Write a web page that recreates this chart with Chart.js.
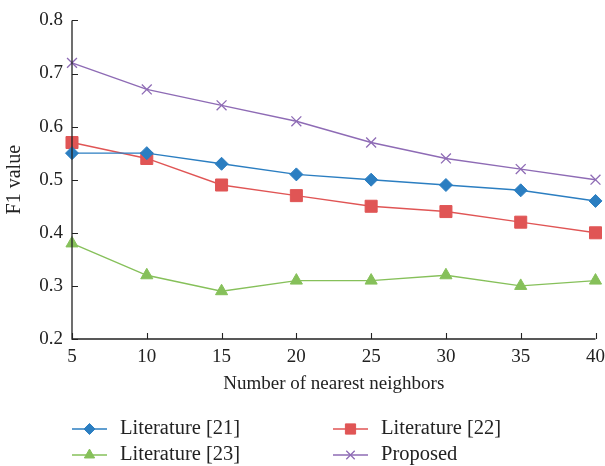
<!DOCTYPE html>
<html>
<head>
<meta charset="utf-8">
<script src="https://cdn.jsdelivr.net/npm/chart.js@4"></script>
<style>
html,body{margin:0;padding:0;background:#fff;}
#wrap{width:605px;height:466px;position:relative;}
</style>
</head>
<body>
<div id="wrap"><canvas id="c" width="605" height="466"></canvas></div>
<script>
const neighbors = [5, 10, 15, 20, 25, 30, 35, 40];
const lit21 = [0.55, 0.55, 0.53, 0.51, 0.50, 0.49, 0.48, 0.46];
const lit22 = [0.57, 0.54, 0.49, 0.47, 0.45, 0.44, 0.42, 0.40];
const lit23 = [0.38, 0.32, 0.29, 0.31, 0.31, 0.32, 0.30, 0.31];
const proposed = [0.72, 0.67, 0.64, 0.61, 0.57, 0.54, 0.52, 0.50];
const seriesNames = ['Literature [21]', 'Literature [22]', 'Literature [23]', 'Proposed'];
const yTicks = [0.2, 0.3, 0.4, 0.5, 0.6, 0.7, 0.8];
const xTicks = [5, 10, 15, 20, 25, 30, 35, 40];

const FONT = "'Liberation Serif', 'DejaVu Serif', serif";
const colors = ['#2B7EC1', '#E05555', '#86C05A', '#8E6BB5'];
const styles = [
  {pointStyle: 'rectRot', r: 6.5},
  {pointStyle: 'rect', r: 8.5},
  {pointStyle: 'triangle', r: 7},
  {pointStyle: 'crossRot', r: 7}
];
const allData = [lit21, lit22, lit23, proposed];

const datasets = allData.map((vals, i) => ({
  label: seriesNames[i],
  data: vals.map((v, j) => ({x: neighbors[j], y: v})),
  borderColor: colors[i],
  backgroundColor: colors[i],
  borderWidth: 1.4,
  pointStyle: styles[i].pointStyle,
  pointRadius: styles[i].r,
  pointHoverRadius: styles[i].r,
  pointBorderWidth: i === 3 ? 1.3 : 1,
  pointBorderColor: colors[i],
  pointBackgroundColor: colors[i],
  tension: 0,
  clip: false
}));

const axisPlugin = {
  id: 'axisTicks',
  afterDraw(chart) {
    const ctx = chart.ctx;
    const xs = chart.scales.x, ys = chart.scales.y;
    const a = chart.chartArea;
    ctx.save();
    ctx.strokeStyle = '#222';
    ctx.lineWidth = 1.3;
    ctx.beginPath();
    ctx.moveTo(a.left, a.top);
    ctx.lineTo(a.left, a.bottom);
    ctx.lineTo(a.right, a.bottom);
    ctx.stroke();
    ctx.lineWidth = 1.1;
    ctx.beginPath();
    yTicks.forEach(v => {
      const y = Math.round(ys.getPixelForValue(v)) + 0.5;
      ctx.moveTo(a.left, y); ctx.lineTo(a.left + 6, y);
    });
    xTicks.forEach(v => {
      const x = Math.round(xs.getPixelForValue(v)) + 0.5;
      ctx.moveTo(x, a.bottom); ctx.lineTo(x, a.bottom - 6);
    });
    ctx.stroke();
    ctx.restore();
  }
};

const legendPlugin = {
  id: 'gridLegend',
  afterDraw(chart) {
    const ctx = chart.ctx;
    const cols = [72, 333];
    const rows = [429, 455];
    ctx.save();
    chart.data.datasets.forEach((ds, i) => {
      const x0 = cols[i % 2], y = rows[Math.floor(i / 2)];
      ctx.strokeStyle = ds.borderColor;
      ctx.lineWidth = 1.4;
      ctx.beginPath();
      ctx.moveTo(x0, y); ctx.lineTo(x0 + 35, y);
      ctx.stroke();
      ctx.fillStyle = ds.backgroundColor;
      ctx.lineWidth = ds.pointBorderWidth;
      Chart.helpers.drawPoint(ctx, {pointStyle: ds.pointStyle, radius: ds.pointRadius * 0.85, borderWidth: ds.pointBorderWidth}, x0 + 17.5, y);
      ctx.fillStyle = '#222';
      ctx.font = '20.5px ' + FONT;
      ctx.textBaseline = 'middle';
      ctx.textAlign = 'left';
      ctx.fillText(ds.label, x0 + 48, y);
    });
    ctx.restore();
  }
};

new Chart(document.getElementById('c'), {
  type: 'line',
  data: {datasets},
  plugins: [axisPlugin, legendPlugin],
  options: {
    responsive: false,
    animation: false,
    devicePixelRatio: 1,
    layout: {padding: {top: 20, right: 0, bottom: 67, left: 0}},
    plugins: {legend: {display: false}, tooltip: {enabled: false}},
    scales: {
      x: {
        type: 'linear',
        min: 5, max: 40,
        afterFit(s) { s.height = 60; s.paddingRight = 9; s.paddingLeft = 0; },
        afterBuildTicks(s) { s.ticks = xTicks.map(v => ({value: v})); },
        grid: {display: false, drawTicks: false},
        border: {display: false},
        ticks: {color: '#222', font: {family: FONT, size: 19}, padding: 7, maxRotation: 0},
        title: {display: true, text: 'Number of nearest neighbors', color: '#222', font: {family: FONT, size: 19}, padding: {top: 0, bottom: 4}}
      },
      y: {
        min: 0.2, max: 0.8,
        afterFit(s) { s.width = 72; },
        afterBuildTicks(s) { s.ticks = yTicks.map(v => ({value: v})); },
        grid: {display: false, drawTicks: false},
        border: {display: false},
        ticks: {color: '#222', font: {family: FONT, size: 19}, padding: 9, callback: v => v.toFixed(1)},
        title: {display: true, text: 'F1 value', color: '#222', font: {family: FONT, size: 20}, padding: {top: 3, bottom: 0}}
      }
    }
  }
});
</script>
</body>
</html>
